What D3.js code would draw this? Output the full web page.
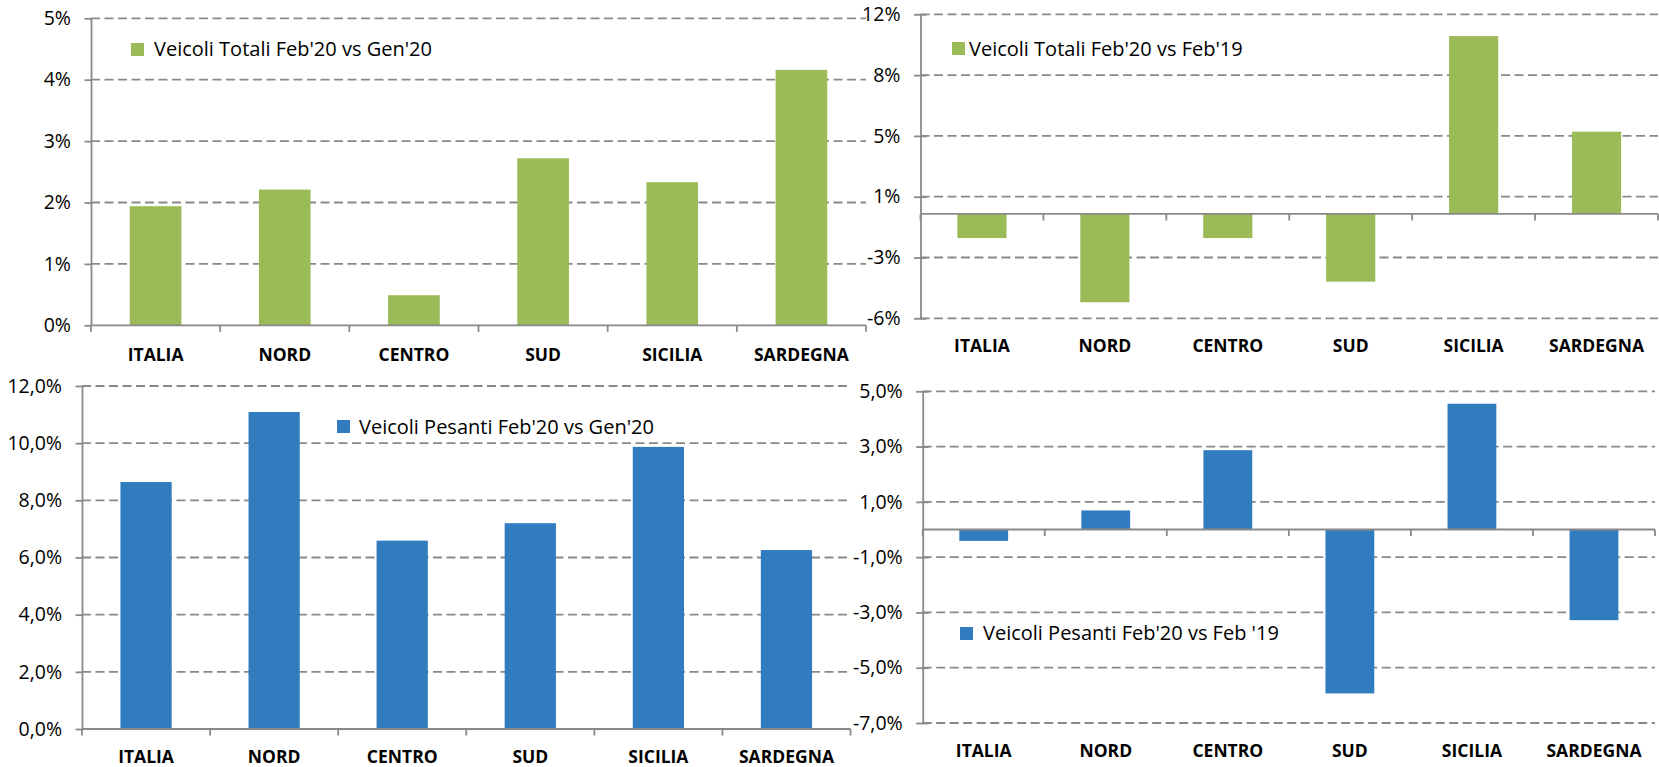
<!DOCTYPE html>
<html>
<head>
<meta charset="utf-8">
<script src="https://cdn.jsdelivr.net/npm/d3@7"></script>
<style>
  body { margin: 0; background: #fff; }
  svg text { font-family: "Open Sans", "Noto Sans", sans-serif; fill: #000; }
</style>
</head>
<body>
<div class="plot"></div>
<script>
// regions on the x axis
var categories = ["ITALIA", "NORD", "CENTRO", "SUD", "SICILIA", "SARDEGNA"];

// values in %
var totaliVsGen20 = [1.94, 2.21, 0.49, 2.72, 2.33, 4.16];
var totaliVsFeb19 = [-1.43, -5.23, -1.43, -4.01, 10.53, 4.87];
var pesantiVsGen20 = [8.64, 11.09, 6.59, 7.20, 9.87, 6.26];
var pesantiVsFeb19 = [-0.41, 0.69, 2.87, -5.93, 4.55, -3.28];

// y ticks and their labels
var ticksA = [0, 1, 2, 3, 4, 5];
var labelsA = ["0%", "1%", "2%", "3%", "4%", "5%"];
var ticksB = [-6.18, -2.58, 1.02, 4.62, 8.22, 11.82];
var labelsB = ["-6%", "-3%", "1%", "5%", "8%", "12%"];
var ticksC = [0, 2, 4, 6, 8, 10, 12];
var labelsC = ["0,0%", "2,0%", "4,0%", "6,0%", "8,0%", "10,0%", "12,0%"];
var ticksD = [-7, -5, -3, -1, 1, 3, 5];
var labelsD = ["-7,0%", "-5,0%", "-3,0%", "-1,0%", "1,0%", "3,0%", "5,0%"];

var green = "#9bbb59";
var blue = "#317bbf";
var gray = "#898989";

var panels = [
  { values: totaliVsGen20, name: "Veicoli Totali Feb'20 vs Gen'20", color: green,
    ticks: ticksA, labels: labelsA, x0: 91, x1: 866, yBottom: 325.3, yTop: 18.3,
    cross: false, sq: [131, 43], textX: 154, textY: 56, labelY: 361 },
  { values: totaliVsFeb19, name: "Veicoli Totali Feb'20 vs Feb'19", color: green,
    ticks: ticksB, labels: labelsB, x0: 920.5, x1: 1658, yBottom: 318.3, yTop: 14.3,
    cross: true, sq: [952, 42], textX: 969, textY: 55.5, labelY: 352 },
  { values: pesantiVsGen20, name: "Veicoli Pesanti Feb'20 vs Gen'20", color: blue,
    ticks: ticksC, labels: labelsC, x0: 82, x1: 850.5, yBottom: 729, yTop: 386,
    cross: false, sq: [337, 420], textX: 359, textY: 433.5, labelY: 763 },
  { values: pesantiVsFeb19, name: "Veicoli Pesanti Feb'20 vs Feb '19", color: blue,
    ticks: ticksD, labels: labelsD, x0: 922.7, x1: 1655, yBottom: 723, yTop: 391.3,
    cross: true, sq: [960, 627], textX: 983, textY: 640, labelY: 757 }
];

var svg = d3.select(".plot").append("svg")
  .attr("width", 1659)
  .attr("height", 767)
  .style("display", "block");

panels.forEach(function(p) {
  var g = svg.append("g");

  var x = d3.scaleBand()
    .domain(categories)
    .range([p.x0, p.x1])
    .paddingInner(0.6)
    .paddingOuter(0.3);

  var y = d3.scaleLinear()
    .domain([p.ticks[0], p.ticks[p.ticks.length - 1]])
    .range([p.yBottom, p.yTop]);

  // dashed grid (zero line is drawn as the axis)
  g.selectAll(".grid")
    .data(p.ticks.filter(function(t) { return t !== 0; }))
    .enter()
    .append("line")
    .attr("x1", p.x0)
    .attr("x2", p.x1)
    .attr("y1", function(d) { return y(d); })
    .attr("y2", function(d) { return y(d); })
    .attr("stroke", gray)
    .attr("stroke-width", 1.8)
    .attr("stroke-dasharray", "9,4.5");

  // bars
  g.selectAll(".bar")
    .data(p.values)
    .enter()
    .append("rect")
    .attr("x", function(d, i) { return x(categories[i]); })
    .attr("width", x.bandwidth())
    .attr("y", function(d) { return y(Math.max(0, d)); })
    .attr("height", function(d) { return Math.abs(y(d) - y(0)); })
    .attr("fill", p.color);

  // y axis
  var yAxis = g.append("g")
    .attr("transform", "translate(" + p.x0 + ",0)")
    .call(d3.axisLeft(y)
      .tickValues(p.ticks)
      .tickFormat(function(d, i) { return p.labels[i]; })
      .tickSizeInner(6.5)
      .tickSizeOuter(0)
      .tickPadding(13.5));
  yAxis.select(".domain").attr("stroke", gray).attr("stroke-width", 1.8);
  yAxis.selectAll(".tick line").attr("stroke", gray).attr("stroke-width", 1.8)
    .attr("x2", p.cross ? 6 : 0).attr("x1", -6.5);
  yAxis.selectAll(".tick text")
    .style("font-size", "19.5px")
    .attr("fill", "#000");

  // x axis line at zero with ticks between categories
  var step = x.step();
  var bounds = categories.map(function(c) { return x(c) - step * x.paddingOuter(); });
  bounds.push(p.x1);
  g.append("line")
    .attr("x1", p.x0).attr("x2", p.x1)
    .attr("y1", y(0)).attr("y2", y(0))
    .attr("stroke", gray).attr("stroke-width", 1.8);
  g.selectAll(".xtick")
    .data(bounds)
    .enter()
    .append("line")
    .attr("x1", function(d) { return d; })
    .attr("x2", function(d) { return d; })
    .attr("y1", y(0))
    .attr("y2", y(0) + 6.5)
    .attr("stroke", gray).attr("stroke-width", 1.8);

  // category labels at the bottom
  var xAxis = g.append("g")
    .attr("transform", "translate(0," + p.labelY + ")")
    .call(d3.axisBottom(x).tickSize(0).tickPadding(0));
  xAxis.select(".domain").remove();
  xAxis.selectAll(".tick text")
    .attr("y", 0)
    .attr("dy", 0)
    .attr("fill", "#000")
    .style("font-size", "17.5px")
    .style("font-weight", "bold");

  // legend
  g.append("rect")
    .attr("x", p.sq[0]).attr("y", p.sq[1])
    .attr("width", 13).attr("height", 13)
    .attr("fill", p.color);
  g.append("text")
    .attr("x", p.textX)
    .attr("y", p.textY)
    .style("font-size", "20px")
    .text(p.name);
});
</script>
</body>
</html>
